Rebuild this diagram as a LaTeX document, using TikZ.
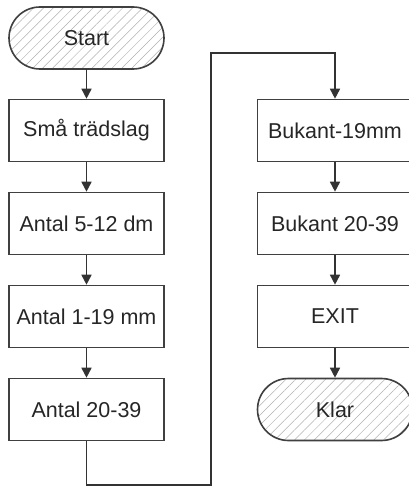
\documentclass[tikz,border=0pt]{standalone}
\usepackage{fontspec}
\setmainfont{Liberation Sans}
\usetikzlibrary{arrows.meta,patterns.meta}
\begin{document}
\begin{tikzpicture}[x=1pt,y=-1pt,
  every node/.style={font=\fontsize{21.5}{24}\selectfont, text=black!85},
  stepbox/.style={draw=black!75, line width=1.6pt, minimum width=155pt, minimum height=62pt, inner sep=0pt},
  termbox/.style={stepbox, rounded corners=31pt, pattern={Lines[angle=45,distance=7pt,line width=0.5pt]}, pattern color=black!30},
  flow/.style={draw=black!80, line width=1.6pt, -{Triangle[length=10pt,width=10pt]}},
  wire/.style={draw=black!80, line width=1.6pt}]
\useasboundingbox (0,0) rectangle (409,487);
\fill[white] (0,0) rectangle (409,487);
\node[termbox] (start) at (86.5,38) {Start};
\node[stepbox] (s1) at (86.5,130.5) {Små trädslag};
\node[stepbox] (s2) at (86.5,223.5) {Antal 5-12 dm};
\node[stepbox] (s3) at (86.5,316.5) {Antal 1-19 mm};
\node[stepbox] (s4) at (86.5,409.5) {Antal 20-39};
\node[stepbox] (r1) at (335,130.5) {Bukant-19mm};
\node[stepbox] (r2) at (335,223.5) {Bukant 20-39};
\node[stepbox] (r3) at (335,316.5) {EXIT};
\node[termbox] (klar) at (335,409.5) {Klar};
\coordinate (c1) at (86.5,485);
\coordinate (c2) at (211,485);
\coordinate (c3) at (211,53);
\coordinate (c4) at (335,53);
\draw[flow] (start) -- (s1);
\draw[flow] (s1) -- (s2);
\draw[flow] (s2) -- (s3);
\draw[flow] (s3) -- (s4);
\draw[flow] (s4.south) -- (c1) -- (c2) -- (c3) -- (c4) -- (r1.north);
\draw[flow] (r1) -- (r2);
\draw[flow] (r2) -- (r3);
\draw[flow] (r3) -- (klar);
\end{tikzpicture}
\end{document}
